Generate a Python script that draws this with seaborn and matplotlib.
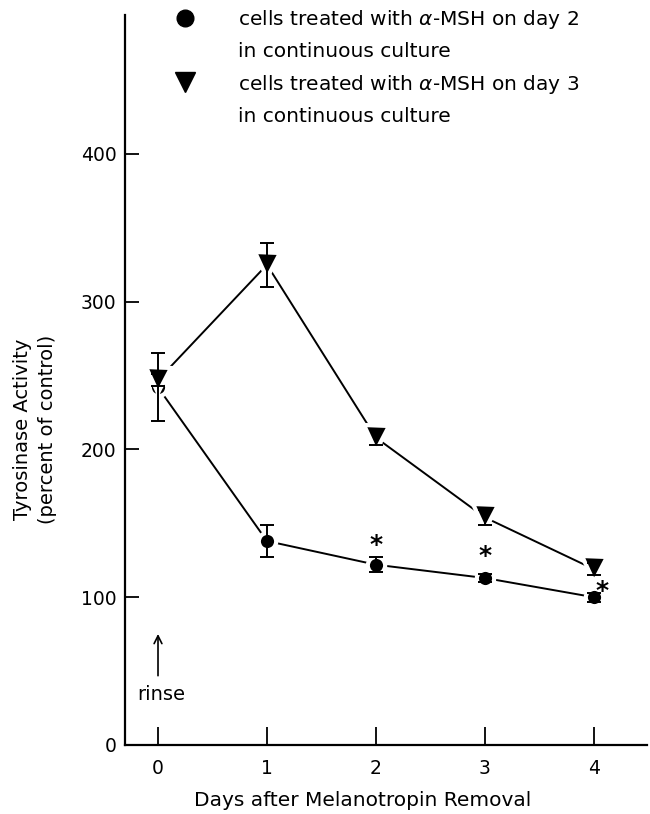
import numpy as np
import pandas as pd
import matplotlib
matplotlib.use("Agg")
import matplotlib.pyplot as plt
from matplotlib.lines import Line2D
import seaborn as sns

# values
days = [0, 1, 2, 3, 4]
day2_mean = [242, 138, 122, 113, 100]
day2_err = [23, 11, 5, 3, 3]
day3_mean = [247, 325, 208, 154, 119]
day3_err = [4, 15, 5, 5, 4]

groups = ["day 2", "day 3"]
legend_lines = [
    "cells treated with $\\alpha$-MSH on day 2", "in continuous culture",
    "cells treated with $\\alpha$-MSH on day 3", "in continuous culture",
]

# asterisks (significance marks)
star_days = [2.0, 3.0, 4.08]
star_vals = [137, 130, 106]

yticks = [0, 100, 200, 300, 400]

df = pd.DataFrame({
    "day": days * 2,
    "activity": day2_mean + day3_mean,
    "group": [groups[0]] * len(days) + [groups[1]] * len(days),
})

sns.set_style("ticks")
plt.rcParams["font.family"] = ["DejaVu Sans"]
plt.rcParams["mathtext.fontset"] = "dejavusans"
for key in ["text.color", "axes.labelcolor", "xtick.color", "ytick.color", "axes.edgecolor"]:
    plt.rcParams[key] = "black"

fig = plt.figure(figsize=(6.5, 8.14), dpi=100)
ax = fig.add_axes([0.1923, 0.0848, 0.8027, 0.8968])

sns.lineplot(data=df, x="day", y="activity", hue="group", style="group",
             markers={groups[0]: "o", groups[1]: "v"}, dashes=False,
             palette=["black", "black"], linewidth=1.4,
             markeredgecolor="white", markeredgewidth=3, ax=ax, zorder=3,
             legend=False)
# bigger triangles than circles, as in the original
ax.lines[0].set_markersize(12.5)
ax.lines[1].set_markersize(18)

ax.errorbar(days, day2_mean, yerr=day2_err, fmt="none", ecolor="black",
            elinewidth=1.4, capsize=5, capthick=1.4, zorder=4)
ax.errorbar(days, day3_mean, yerr=day3_err, fmt="none", ecolor="black",
            elinewidth=1.4, capsize=5, capthick=1.4, zorder=4)

for sx, sy in zip(star_days, star_vals):
    ax.annotate("*", (sx, sy), xytext=(0, -2), textcoords="offset points",
                fontsize=18, fontweight="bold", ha="center", va="center")

# rinse marker
ax.annotate("", xy=(0, 77), xytext=(0, 45),
            arrowprops=dict(arrowstyle="->", color="black", lw=1.2,
                            mutation_scale=14))
ax.text(0.03, 34, "rinse", fontsize=14, ha="center", va="center")

ax.set_xlim(-0.303, 4.486)
ax.set_ylim(0, 494)
ax.set_xticks(days)
ax.set_yticks(yticks)
ax.tick_params(axis="both", direction="in", width=1.3, labelsize=13.5, pad=8)
ax.tick_params(axis="x", length=13, pad=10)
ax.tick_params(axis="y", length=10, pad=6)

for side in ["top", "right"]:
    ax.spines[side].set_visible(False)
for side in ["left", "bottom"]:
    ax.spines[side].set_linewidth(1.6)

ax.set_xlabel("Days after Melanotropin Removal", fontsize=14.5)
ax.xaxis.set_label_coords(0.455, -0.063)
ax.set_ylabel("Tyrosinase Activity\n(percent of control)", fontsize=14,
              linespacing=1.4)
ax.yaxis.set_label_coords(-0.13, 0.433)

blank = Line2D([], [], linestyle="none", marker="none")
handles = [
    Line2D([], [], linestyle="none", marker="o", color="black", markersize=12),
    blank,
    Line2D([], [], linestyle="none", marker="v", color="black", markersize=15),
    blank,
]
ax.legend(handles, legend_lines, loc="upper left", bbox_to_anchor=(0.061, 1.035),
          frameon=False, fontsize=14.5, handlelength=1.0,
          handletextpad=2.13, labelspacing=0.57)

fig.savefig("out.png", dpi=100)
